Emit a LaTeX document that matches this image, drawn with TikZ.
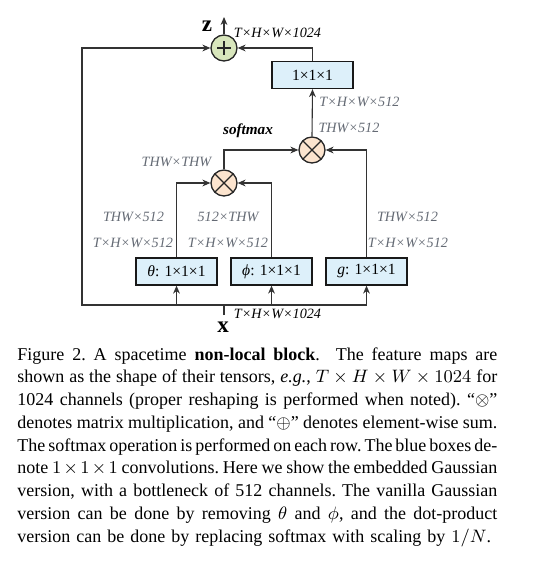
\documentclass[tikz,border=0pt]{standalone}
\usepackage{fontspec}
\setmainfont{Liberation Serif}
\usepackage{tikz}
\usetikzlibrary{calc, positioning, arrows.meta}
\definecolor{xbox}{HTML}{DDF0FA}
\definecolor{xplus}{HTML}{D8E6BC}
\definecolor{xtimes}{HTML}{FCE4CE}
\definecolor{xdim}{HTML}{646A74}
\colorlet{xline}{black!80}
\newcommand{\capline}[1]{\hbox to 240pt{\frenchspacing\spaceskip=0.25em plus 0.4em minus 0.1em #1}}
\tikzset{
  flow/.style = {draw=xline, line width=0.55pt, -{Stealth[length=4pt, width=3.4pt]}},
  wire/.style = {draw=xline, line width=0.55pt},
  conv/.style = {draw=black!90, line width=0.65pt, fill=xbox, minimum width=40.5pt, minimum height=13.5pt, inner sep=0pt, font=\fontsize{7.8}{9}\selectfont},
  op/.style = {circle, draw=black!85, line width=0.65pt, fill=#1, minimum size=13pt, inner sep=0pt},
  plusop/.style = {op=#1, path picture={
      \draw[line width=0.55pt] ([xshift=-3.4pt]path picture bounding box.center) -- ([xshift=3.4pt]path picture bounding box.center)
        ([yshift=-3.4pt]path picture bounding box.center) -- ([yshift=3.4pt]path picture bounding box.center);}},
  timesop/.style = {op=#1, path picture={
      \draw[line width=0.55pt] ([shift={(-4.6pt,-4.6pt)}]path picture bounding box.center) -- ([shift={(4.6pt,4.6pt)}]path picture bounding box.center)
        ([shift={(-4.6pt,4.6pt)}]path picture bounding box.center) -- ([shift={(4.6pt,-4.6pt)}]path picture bounding box.center);}},
  dim/.style = {text=xdim, inner sep=0pt, font=\fontsize{7.1}{8}\selectfont\itshape},
  dimdark/.style = {text=black, inner sep=0pt, font=\fontsize{7.1}{8}\selectfont\itshape},
  io/.style = {inner sep=0pt, font=\fontsize{11.5}{12}\selectfont\bfseries},
}
\begin{document}
\begin{tikzpicture}[x=0.5pt, y=-0.5pt]
  \useasboundingbox (0,0) rectangle (535,561);

  % operators and convolutions
  \node[plusop=xplus] (plus) at (224,48) {};
  \node[timesop=xtimes] (mulB) at (312,150) {};
  \node[timesop=xtimes] (mulA) at (224,183) {};
  \node[conv] (proj) at (312.5,75) {1×1×1};
  \node[conv] (theta) at (176.5,271.5) {\textit{θ}: 1×1×1};
  \node[conv] (phi) at (271.5,271.5) {\textit{ϕ}: 1×1×1};
  \node[conv] (gfun) at (366.5,271.5) {\textit{g}: 1×1×1};

  \node[io] (zlbl) at (207,26) {z};
  \node[io] (xlbl) at (223,327) {x};
  \coordinate (zout) at (224,17);
  \coordinate (xin) at (224,305);
  \coordinate (xstub) at (224,315);
  \coordinate (skip) at (82,48);

  % connectors
  \draw[wire] (xstub) -- (xin);
  \draw[flow] (xin) -| (theta.south);
  \draw[flow] (xin) -| (phi.south);
  \draw[flow] (xin) -| (gfun.south);
  \draw[flow] (xin) -| (skip) -- (plus.west);
  \draw[flow] (theta.north) |- (mulA.west);
  \draw[flow] (phi.north) |- (mulA.east);
  \draw[flow] (mulA.north) |- (mulB.west);
  \draw[flow] (gfun.north) |- (mulB.east);
  \draw[flow] (mulB.north) -- (proj.south);
  \draw[flow] (proj.north) |- (plus.east);
  \draw[flow] (plus.north) -- (zout);

  % tensor shapes
  \node[dimdark] (dimOut) at (277.5,33) {T×H×W×1024};
  \node[dimdark] (dimIn) at (277.5,314) {T×H×W×1024};
  \node[dim] (dimProj) at (359.5,102) {T×H×W×512};
  \node[dim] (dimMulB) at (349,128) {THW×512};
  \node[dimdark, font=\fontsize{7.6}{9}\selectfont\bfseries\itshape] (smax) at (248,131) {softmax};
  \node[dim] (dimMulA) at (176.5,162) {THW×THW};
  \node[dim] (dimThetaR) at (133.5,217) {THW×512};
  \node[dim] (dimTheta) at (133,243) {T×H×W×512};
  \node[dim] (dimPhiR) at (228,217) {512×THW};
  \node[dim] (dimPhi) at (228,243) {T×H×W×512};
  \node[dim] (dimGR) at (407.5,217) {THW×512};
  \node[dim] (dimG) at (408,243) {T×H×W×512};

  % caption
  \node[anchor=north west, inner sep=0pt, text width=240pt,
        font=\fontsize{9.0}{11.375}\selectfont] (caption) at (17,347) {%
    \capline{Figure 2. A spacetime \textbf{non-local block}.\ \ The feature maps are}
    \capline{shown as the shape of their tensors, \emph{e.g.}, $T\times H\times W\times 1024$ for}
    \capline{1024 channels (proper reshaping is performed when noted). ``$\otimes$''}
    \capline{denotes matrix multiplication, and ``$\oplus$'' denotes element-wise sum.}
    \capline{The softmax operation is performed on each row. The blue boxes de-}
    \capline{note $1\times 1\times 1$ convolutions. Here we show the embedded Gaussian}
    \capline{version, with a bottleneck of 512 channels. The vanilla Gaussian}
    \capline{version can be done by removing $\theta$ and $\phi$, and the dot-product}
    \hbox{\frenchspacing version can be done by replacing softmax with scaling by $1/N$.}};
\end{tikzpicture}
\end{document}
